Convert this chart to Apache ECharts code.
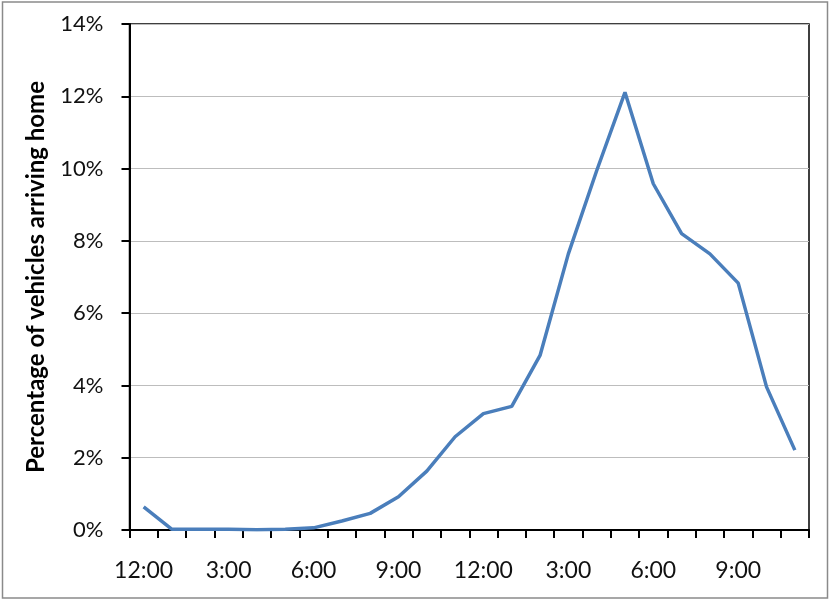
<!DOCTYPE html>
<html>
<head>
<meta charset="utf-8">
<script src="https://cdn.jsdelivr.net/npm/echarts@6/dist/echarts.min.js"></script>
<style>
html,body{margin:0;padding:0;background:#fff;}
#chart{width:830px;height:602px;}
</style>
</head>
<body>
<div id="chart"></div>
<script>
const categories = ['12:00','1:00','2:00','3:00','4:00','5:00','6:00','7:00','8:00','9:00','10:00','11:00',
                    '12:00','1:00','2:00','3:00','4:00','5:00','6:00','7:00','8:00','9:00','10:00','11:00'];
const arrivingHome = [0.64,0.02,0.02,0.02,0.01,0.02,0.06,0.25,0.46,0.92,1.63,2.58,
                      3.22,3.42,4.83,7.64,9.94,12.11,9.58,8.20,7.64,6.83,3.96,2.21];
const yTicks = {min:0, max:14, interval:2};
const yTitle = 'Percentage of vehicles arriving home';

const chart = echarts.init(document.getElementById('chart'));
const font = 'Lato';
chart.setOption({
  animation:false,
  graphic:[{type:'rect',shape:{x:2.5,y:2,width:825,height:596},style:{fill:'none',stroke:'#8a8a8a',lineWidth:1.5},silent:true}],
  grid:{left:129.5,right:21,top:24,bottom:72,show:true,borderColor:'#000',borderWidth:1.5,backgroundColor:'transparent'},
  xAxis:{
    type:'category',data:categories,boundaryGap:true,
    axisLine:{lineStyle:{color:'#000',width:2}},
    axisTick:{show:true,interval:0,length:8,lineStyle:{color:'#000',width:2}},
    axisLabel:{interval:2,margin:29,fontFamily:font,fontSize:23,color:'#111'},
    splitLine:{show:false}
  },
  yAxis:{
    type:'value',min:yTicks.min,max:yTicks.max,interval:yTicks.interval,
    name:yTitle,nameLocation:'middle',nameGap:81,
    nameTextStyle:{fontFamily:font,fontWeight:'bold',fontSize:24,color:'#000'},
    axisLine:{show:true,lineStyle:{color:'#000',width:2}},
    axisTick:{show:true,length:8,lineStyle:{color:'#000',width:2}},
    axisLabel:{formatter:'{value}%',margin:26,fontFamily:font,fontSize:22,color:'#111'},
    splitLine:{show:true,lineStyle:{color:'#bdbdbd',width:1.2}}
  },
  series:[{
    type:'line',data:arrivingHome,showSymbol:false,symbol:'none',
    lineStyle:{color:'#4a7ebb',width:3.5},
    itemStyle:{color:'#4a7ebb'}
  }]
});
</script>
</body>
</html>
